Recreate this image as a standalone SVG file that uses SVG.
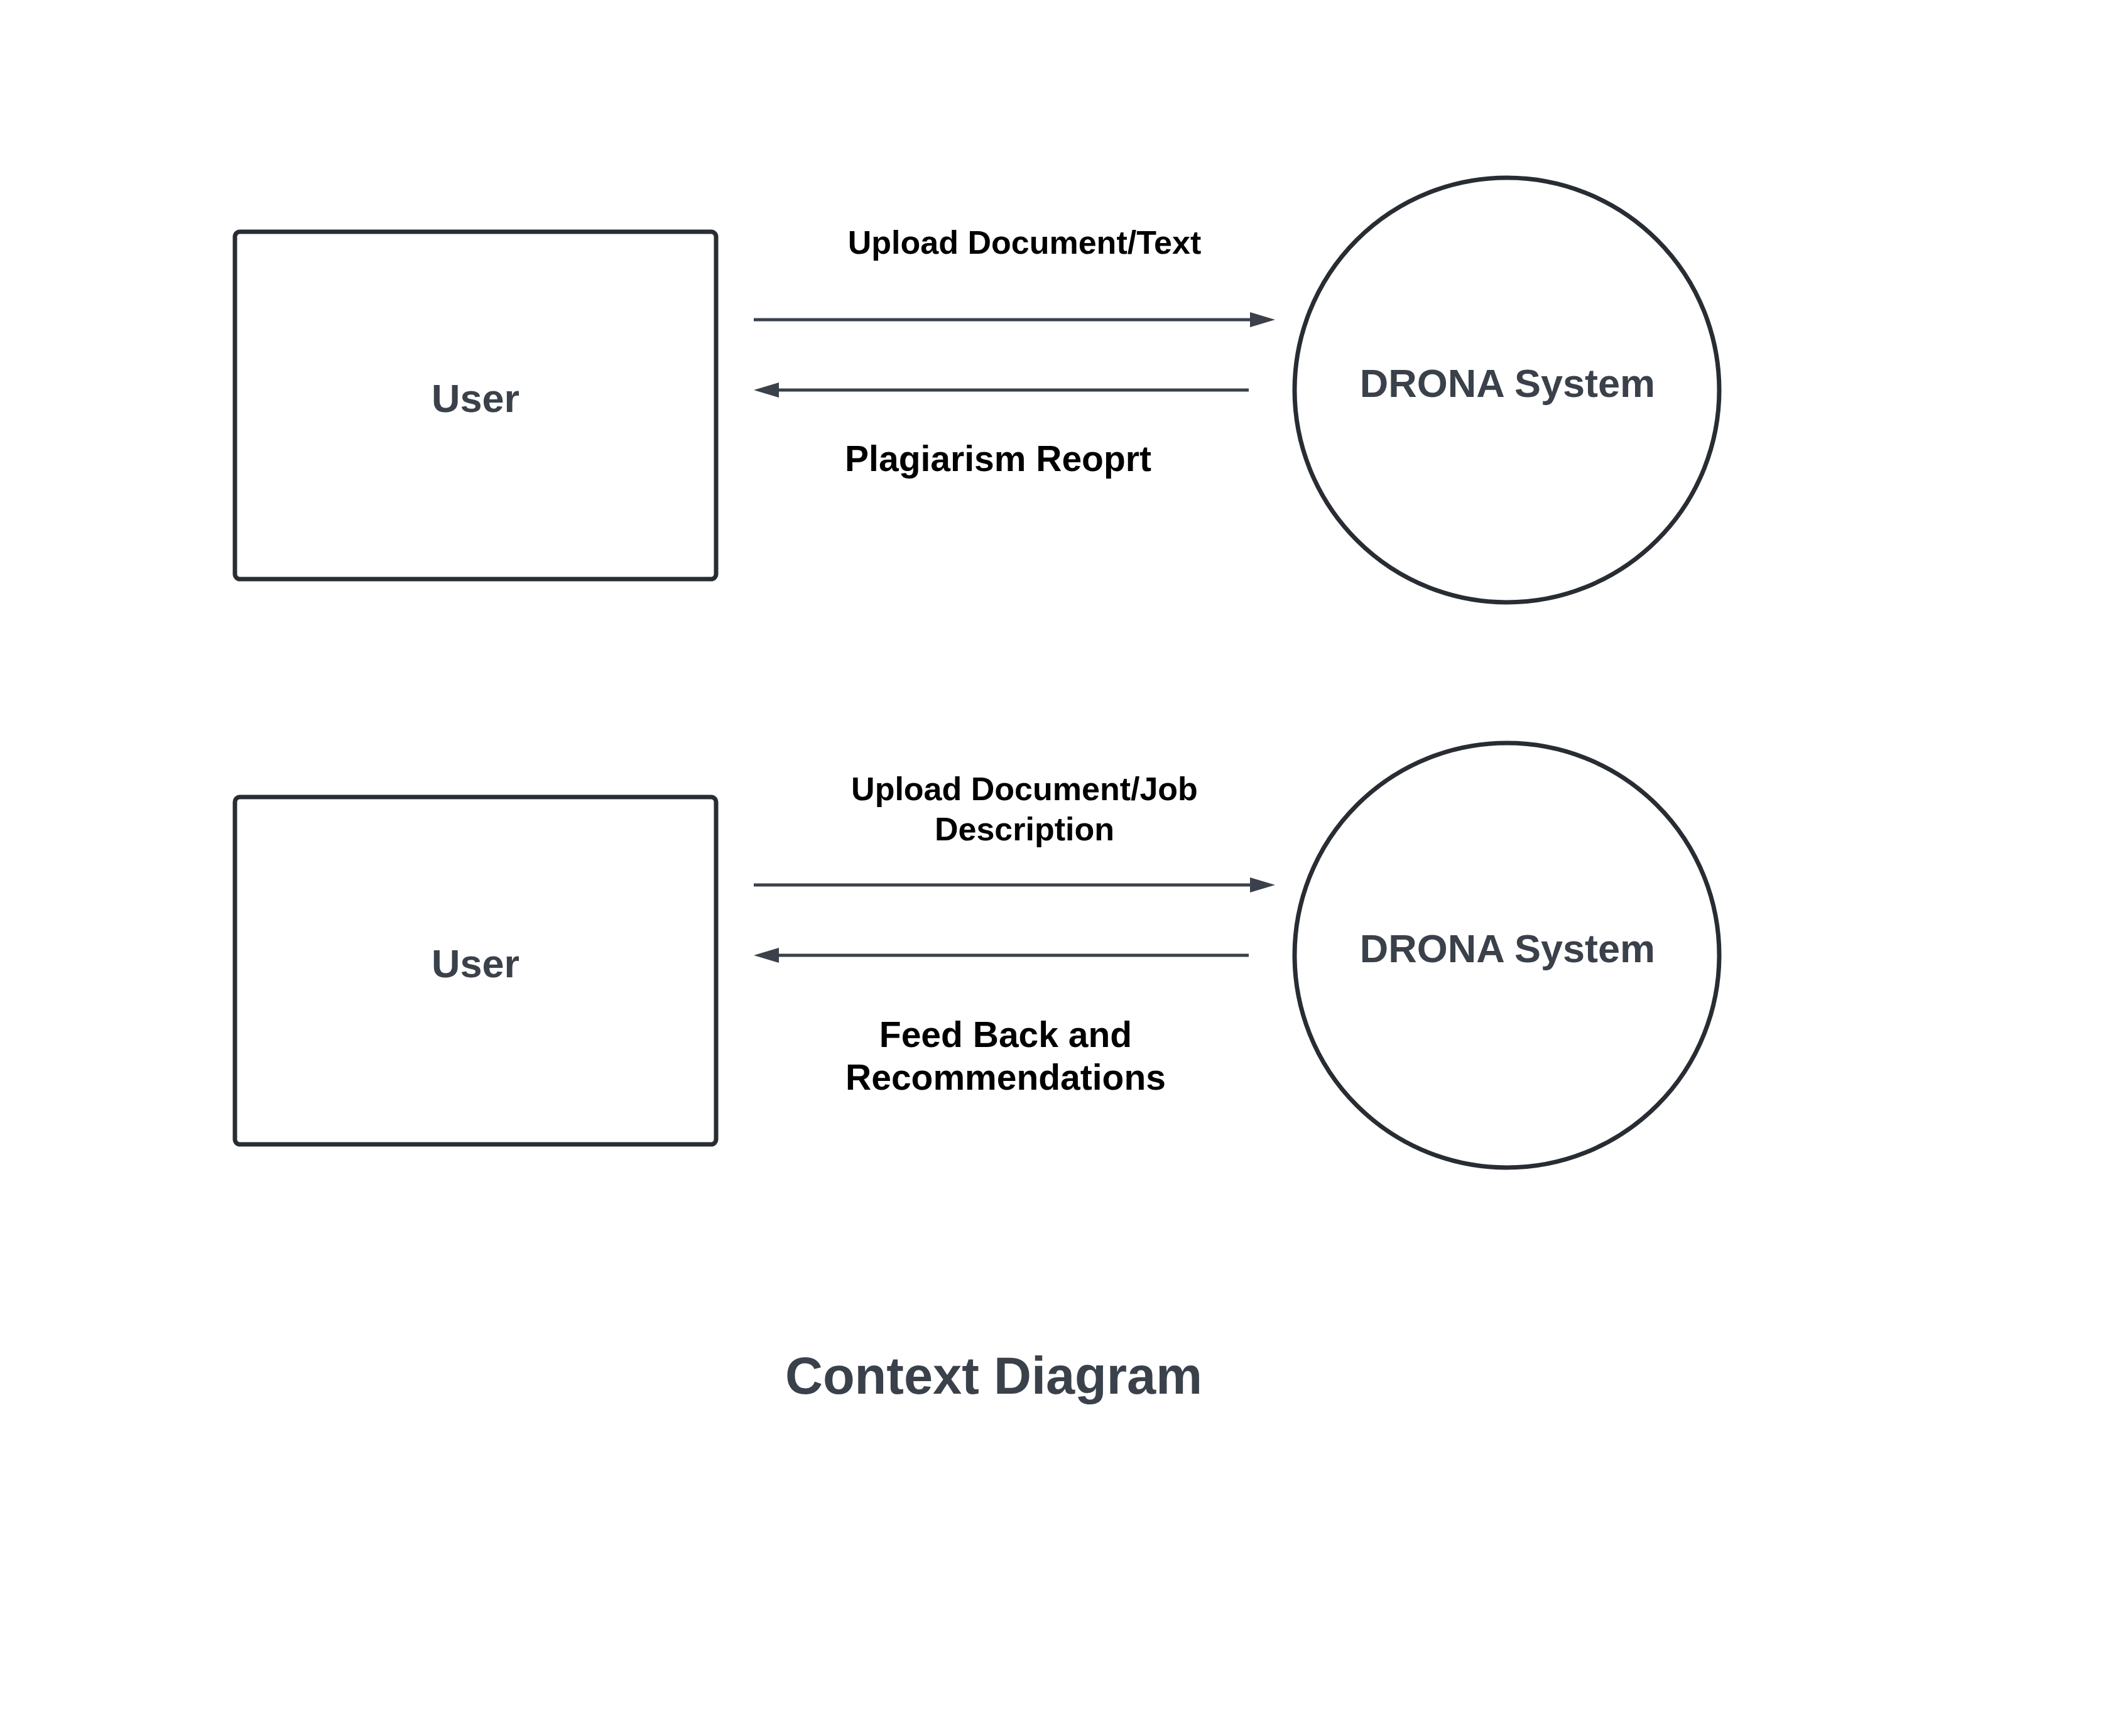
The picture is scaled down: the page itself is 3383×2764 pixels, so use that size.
<svg xmlns="http://www.w3.org/2000/svg" width="3383" height="2764" viewBox="0 0 3383 2764">
<style>
.box{fill:#ffffff;stroke:#282c33;stroke-width:7}
.node{font-family:"Liberation Sans",Arial,sans-serif;font-weight:bold;font-size:63px;fill:#3a414a;text-anchor:middle}
.lbl{font-family:"Liberation Sans",Arial,sans-serif;font-weight:bold;fill:#000000;text-anchor:middle}
.conn{stroke:#3a414a;stroke-width:5;fill:none;marker-end:url(#ah)}
.title{font-family:"Liberation Sans",Arial,sans-serif;font-weight:bold;font-size:83px;fill:#3a414a;text-anchor:middle}
</style>
<defs>
<marker id="ah" viewBox="0 0 40 24" markerWidth="40" markerHeight="24" refX="0" refY="12" markerUnits="userSpaceOnUse" orient="auto">
<polygon points="0,0 40,12 0,24" fill="#3a414a"/>
</marker>
</defs>
<rect width="3383" height="2764" fill="#ffffff"/>
<g id="user1"><rect class="box" x="374" y="369" width="766" height="553" rx="8"/><text class="node" x="757" y="656">User</text></g>
<g id="drona1"><circle class="box" cx="2399" cy="621" r="338"/><text class="node" x="2400" y="632">DRONA System</text></g>
<g id="user2"><rect class="box" x="374" y="1269" width="766" height="553" rx="8"/><text class="node" x="757" y="1556">User</text></g>
<g id="drona2"><circle class="box" cx="2399" cy="1521" r="338"/><text class="node" x="2400" y="1532">DRONA System</text></g>
<g id="connectors">
<line class="conn" x1="1200" y1="509" x2="1990" y2="509"/>
<line class="conn" x1="1988" y1="621" x2="1240" y2="621"/>
<line class="conn" x1="1200" y1="1409" x2="1990" y2="1409"/>
<line class="conn" x1="1988" y1="1521" x2="1240" y2="1521"/>
<text class="lbl" x="1631" y="404" font-size="52">Upload Document/Text</text>
<text class="lbl" x="1589" y="750" font-size="57">Plagiarism Reoprt</text>
<text class="lbl" x="1631" y="1274" font-size="52">Upload Document/Job</text>
<text class="lbl" x="1631" y="1338" font-size="52">Description</text>
<text class="lbl" x="1601" y="1667" font-size="57">Feed Back and</text>
<text class="lbl" x="1601" y="1735" font-size="57">Recommendations</text>
</g>
<text class="title" x="1582" y="2219">Context Diagram</text>
</svg>
